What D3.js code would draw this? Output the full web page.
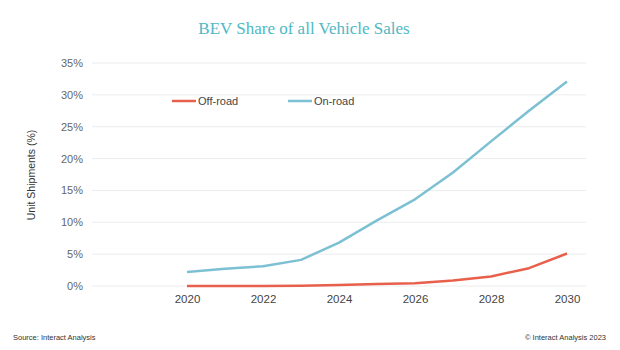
<!DOCTYPE html>
<html>
<head>
<meta charset="utf-8">
<script src="https://cdn.jsdelivr.net/npm/d3@7"></script>
<style>
  body { margin: 0; background: #fff; }
  text { font-family: "Liberation Sans", Arial, sans-serif; }
</style>
</head>
<body>
<div class="chart"></div>
<script>
//Data
var years = [2020, 2021, 2022, 2023, 2024, 2025, 2026, 2027, 2028, 2029, 2030];
var offRoad = [0, 0, 0, 0.05, 0.15, 0.3, 0.45, 0.85, 1.5, 2.8, 5.1];
var onRoad = [2.2, 2.7, 3.1, 4.1, 6.8, 10.3, 13.6, 17.8, 22.7, 27.5, 32.1];
var yTicks = [0, 5, 10, 15, 20, 25, 30, 35];
var xTicks = [2020, 2022, 2024, 2026, 2028, 2030];

//Width and height
var w = 620;
var h = 350;

var svg = d3.select(".chart")
    .append("svg")
    .attr("width", w)
    .attr("height", h);

var xScale = d3.scaleLinear()
    .domain([2017.5, 2030.5])
    .range([92, 586]);

var yScale = d3.scaleLinear()
    .domain([0, 35])
    .range([286, 63]);

//Title
svg.append("text")
    .attr("x", 304)
    .attr("y", 34)
    .attr("text-anchor", "middle")
    .style("font-family", "'Liberation Serif', 'DejaVu Serif', serif")
    .style("font-size", "17px")
    .style("fill", "#4fb8c6")
    .text("BEV Share of all Vehicle Sales");

//Gridlines
svg.append("g")
    .selectAll("line")
    .data(yTicks)
    .enter()
    .append("line")
    .attr("x1", xScale.range()[0])
    .attr("x2", xScale.range()[1])
    .attr("y1", (d) => yScale(d))
    .attr("y2", (d) => yScale(d))
    .attr("stroke", "#ececec")
    .attr("stroke-width", 1);

//Y axis
var yAxis = d3.axisLeft(yScale)
    .tickValues(yTicks)
    .tickSize(0)
    .tickPadding(9)
    .tickFormat((d) => d + "%");
var gy = svg.append("g")
    .attr("transform", "translate(" + xScale.range()[0] + ", 0)")
    .call(yAxis);
gy.select(".domain").remove();
gy.selectAll("text")
    .style("font-size", "11px")
    .style("fill", "#666");

//X axis
var xAxis = d3.axisBottom(xScale)
    .tickValues(xTicks)
    .tickSize(0)
    .tickPadding(9)
    .tickFormat(d3.format("d"));
var gx = svg.append("g")
    .attr("transform", "translate(0, " + yScale(0) + ")")
    .call(xAxis);
gx.select(".domain").remove();
gx.selectAll("text")
    .style("font-size", "11.5px")
    .style("fill", "#444");

//Axis label
svg.append("text")
    .attr("transform", "rotate(-90)")
    .attr("x", -175)
    .attr("y", 35)
    .attr("text-anchor", "middle")
    .style("font-size", "10.5px")
    .style("fill", "#333")
    .text("Unit Shipments (%)");

//Lines
var series = [
    { name: "Off-road", values: offRoad, color: "#e8604c" },
    { name: "On-road", values: onRoad, color: "#7cc0d3" }
];

var line = d3.line()
    .x((d, i) => xScale(years[i]))
    .y((d) => yScale(d));

svg.selectAll(".series")
    .data(series)
    .enter()
    .append("path")
    .attr("class", "series")
    .attr("d", (d) => line(d.values))
    .attr("fill", "none")
    .attr("stroke", (d) => d.color)
    .attr("stroke-width", 2.5)
    .attr("stroke-linejoin", "round");

//Legend
var legendX = [172, 288];
var legend = svg.selectAll(".legend")
    .data(series)
    .enter()
    .append("g")
    .attr("class", "legend")
    .attr("transform", (d, i) => "translate(" + legendX[i] + ", 101)");
legend.append("line")
    .attr("x1", 0)
    .attr("x2", 24)
    .attr("stroke", (d) => d.color)
    .attr("stroke-width", 2.5);
legend.append("text")
    .attr("x", 26)
    .attr("y", 4)
    .style("font-size", "11px")
    .style("fill", "#444")
    .text((d) => d.name);

//Footer
svg.append("text")
    .attr("x", 13)
    .attr("y", 340)
    .style("font-size", "7.5px")
    .style("fill", "#333")
    .text("Source: Interact Analysis");
svg.append("text")
    .attr("x", 606)
    .attr("y", 340)
    .attr("text-anchor", "end")
    .style("font-size", "7.5px")
    .style("fill", "#333")
    .text("\u00a9 Interact Analysis 2023");
</script>
</body>
</html>
